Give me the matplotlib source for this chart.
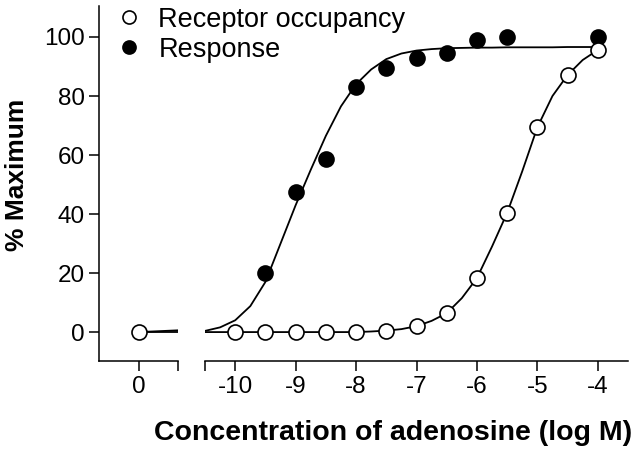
import numpy as np
import matplotlib
matplotlib.use("Agg")
import matplotlib.pyplot as plt

plt.rcParams['font.family'] = ['Liberation Sans', 'DejaVu Sans']
plt.rcParams['axes.unicode_minus'] = False

# data points (log M)
conc_occ = [-10, -9.5, -9, -8.5, -8, -7.5, -7, -6.5, -6, -5.5, -5, -4.5, -4]
occupancy = [0, 0, 0, 0, 0, 0.5, 2, 6.4, 18.3, 40.4, 69.4, 87.1, 95.6]
conc_resp = [-9.5, -9, -8.5, -8, -7.5, -7, -6.5, -6, -5.5, -4]
response = [20, 47.5, 58.6, 83, 89.5, 93, 94.6, 99, 100, 100]

# zero-concentration point
zero_x = [0]
zero_occ = [0]

# fitted curves
curve_x = [-10.5, -10.25, -10, -9.75, -9.5, -9.25, -9, -8.75, -8.5, -8.25, -8,
           -7.75, -7.5, -7.25, -7, -6.75, -6.5, -6.25, -6, -5.75, -5.5, -5.25,
           -5, -4.75, -4.5, -4.25, -4]
curve_resp = [0.4, 1.6, 4.0, 8.8, 17, 30, 43, 55, 66.5, 76.5, 84, 89, 92.5, 94.4,
              95.4, 95.9, 96.2, 96.3, 96.4, 96.4, 96.5, 96.5, 96.5, 96.5, 96.6,
              96.6, 96.6]
curve_occ = [0, 0, 0, 0, 0, 0, 0, 0, 0, 0, 0, 0.2, 0.5, 1.0, 2, 3.8, 6.4, 11.5,
             18.3, 29, 40.4, 54.5, 69.4, 80, 87.1, 92.2, 95.6]
left_x = [0, 0.65]
left_resp = [0, 0.6]
left_occ = [0, 0]

fig = plt.figure(figsize=(6.4, 4.54), dpi=100)
axl = fig.add_axes([99/640, 93/454, 79/640, 355/454])
axr = fig.add_axes([205/640, 93/454, 423/640, 355/454])

lw = 1.3
mk = dict(markersize=10.8, markeredgewidth=1.2, markeredgecolor='black', linestyle='none')

axl.plot(left_x, left_resp, color='black', lw=lw)
axl.plot(left_x, left_occ, color='black', lw=lw)
axl.plot(zero_x, zero_occ, marker='o', markerfacecolor='white', clip_on=False, **mk)

axr.plot(curve_x, curve_resp, color='black', lw=lw)
axr.plot(curve_x, curve_occ, color='black', lw=lw)
axr.plot(conc_resp, response, marker='o', markerfacecolor='black', clip_on=False, **mk)
axr.plot(conc_occ, occupancy, marker='o', markerfacecolor='white', clip_on=False, **mk)

ylim = (-9.8, 110.5)
axl.set_xlim(-0.66, 0.645)
axr.set_xlim(-10.5, -3.5)
for ax in (axl, axr):
    ax.set_ylim(*ylim)
    ax.spines['top'].set_visible(False)
    ax.spines['right'].set_visible(False)
    for s in ax.spines.values():
        s.set_linewidth(1.1)
    ax.tick_params(direction='out', length=7, width=1.1, labelsize=17.5, pad=4)
    ax.tick_params(axis='x', which='minor', direction='out', length=7, width=1.1)

axl.set_xticks([0])
axl.set_xticks([0.645], minor=True)
axl.set_yticks([0, 20, 40, 60, 80, 100])
axl.tick_params(axis='y', pad=3)

axr.spines['left'].set_visible(False)
axr.set_yticks([])
axr.set_xticks([-10, -9, -8, -7, -6, -5, -4])
axr.set_xticks([-10.5], minor=True)

fig.text(17/640, 1 - 175/454, '% Maximum', rotation=90, fontsize=19,
         fontweight='bold', ha='center', va='center')
fig.text(393/640, 1 - 433/454, 'Concentration of adenosine (log M)', fontsize=20.5,
         fontweight='bold', ha='center', va='center')

h1, = axr.plot([], [], marker='o', markerfacecolor='white', markersize=9.4,
               markeredgewidth=1.2, markeredgecolor='black', linestyle='none')
h2, = axr.plot([], [], marker='o', markerfacecolor='black', markersize=9.4,
               markeredgewidth=1.2, markeredgecolor='black', linestyle='none')
fig.legend([h1, h2], ['Receptor occupancy', 'Response'], loc='upper left',
           bbox_to_anchor=(96/640, 1.027), frameon=False, fontsize=19.5,
           handlelength=1.0, handletextpad=0.6, labelspacing=0.15, borderpad=0.2)

fig.savefig('out.png', dpi=100)
